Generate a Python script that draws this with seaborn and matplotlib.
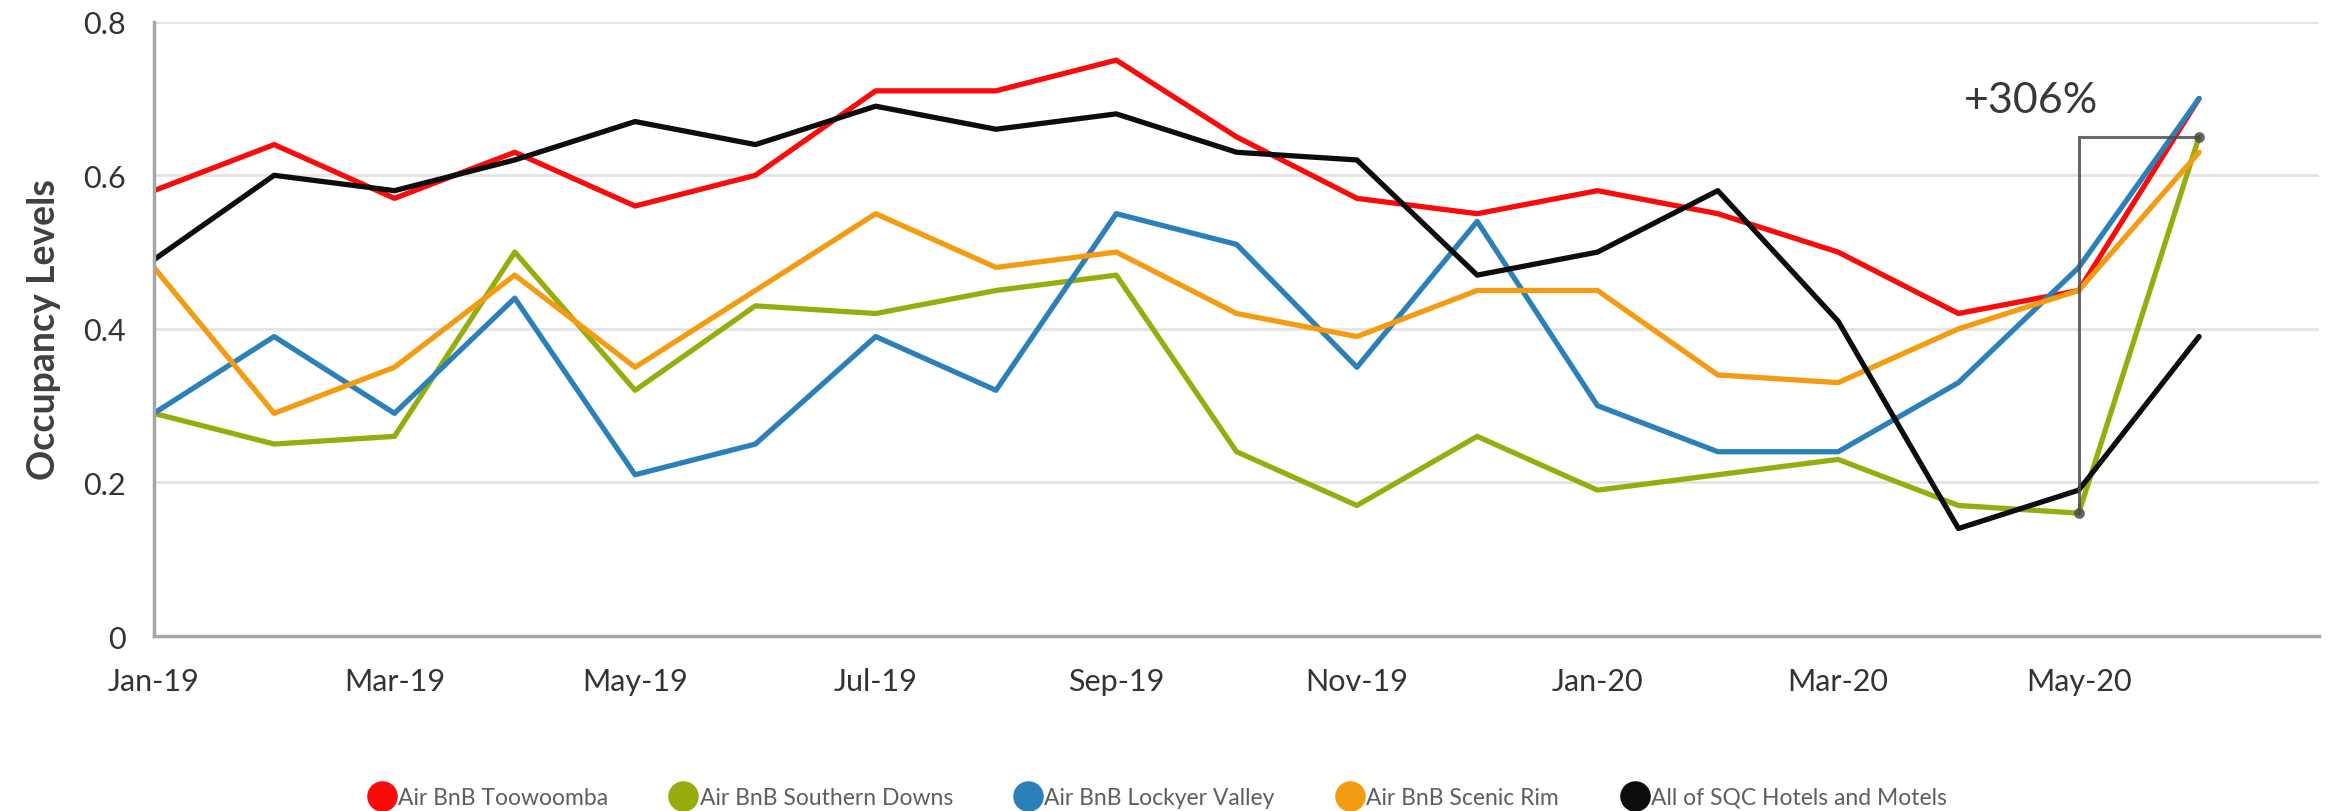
import pandas as pd
import numpy as np

import seaborn as sns

import matplotlib
import matplotlib.pyplot as plt
from matplotlib.lines import Line2D

matplotlib.use("agg")

months = [
    "Jan-19", "Feb-19", "Mar-19", "Apr-19", "May-19", "Jun-19",
    "Jul-19", "Aug-19", "Sep-19", "Oct-19", "Nov-19", "Dec-19",
    "Jan-20", "Feb-20", "Mar-20", "Apr-20", "May-20", "Jun-20",
]

toowoomba = [0.58, 0.64, 0.57, 0.63, 0.56, 0.60, 0.71, 0.71, 0.75, 0.65, 0.57, 0.55,
             0.58, 0.55, 0.50, 0.42, 0.45, 0.70]
southern_downs = [0.29, 0.25, 0.26, 0.50, 0.32, 0.43, 0.42, 0.45, 0.47, 0.24, 0.17, 0.26,
                  0.19, 0.21, 0.23, 0.17, 0.16, 0.65]
lockyer_valley = [0.29, 0.39, 0.29, 0.44, 0.21, 0.25, 0.39, 0.32, 0.55, 0.51, 0.35, 0.54,
                  0.30, 0.24, 0.24, 0.33, 0.48, 0.70]
scenic_rim = [0.48, 0.29, 0.35, 0.47, 0.35, 0.45, 0.55, 0.48, 0.50, 0.42, 0.39, 0.45,
              0.45, 0.34, 0.33, 0.40, 0.45, 0.63]
sqc_hotels = [0.49, 0.60, 0.58, 0.62, 0.67, 0.64, 0.69, 0.66, 0.68, 0.63, 0.62, 0.47,
              0.50, 0.58, 0.41, 0.14, 0.19, 0.39]

series_names = [
    "Air BnB Toowoomba",
    "Air BnB Southern Downs",
    "Air BnB Lockyer Valley",
    "Air BnB Scenic Rim",
    "All of SQC Hotels and Motels",
]
series_values = [toowoomba, southern_downs, lockyer_valley, scenic_rim, sqc_hotels]
colors = ["#fa0a0a", "#97ad0e", "#2b80b9", "#f39c12", "#0d0d0d"]

y_ticks = [0, 0.2, 0.4, 0.6, 0.8]
y_tick_labels = ["0", "0.2", "0.4", "0.6", "0.8"]

# long table for seaborn
rows = []
for name, vals in zip(series_names, series_values):
    for i, v in enumerate(vals):
        rows.append({"idx": i, "month": months[i], "series": name, "value": v})
df = pd.DataFrame(rows)

sns.set_theme(style="white")
plt.rcParams["font.family"] = ["Lato", "DejaVu Sans"]

fig = plt.figure(figsize=(23.31, 8.12), dpi=100)
ax = fig.add_axes([0.066, 0.2155, 0.929, 0.7565])

sns.lineplot(
    data=df, x="idx", y="value", hue="series", hue_order=series_names,
    palette=colors, linewidth=3.8, legend=False, ax=ax,
)

# the +306% bracket on Southern Downs
sd_may = southern_downs[16]
sd_jun = southern_downs[17]
ax.plot([16, 16, 17], [sd_may, sd_jun, sd_jun], color="#4d4d4d", alpha=0.85,
        linewidth=2.2, zorder=5, solid_joinstyle="miter")
ax.scatter([16, 17], [sd_may, sd_jun], s=60, color="#4d4d4d", alpha=0.85, zorder=6,
           linewidths=0)
ax.text(15.6, 0.698, "+306%", fontsize=31, color="#383838", ha="center", va="center")

ax.set_xlim(0, 18)
ax.set_ylim(0, 0.8)
ax.set_xticks(range(0, 17, 2))
ax.set_xticklabels(months[0:17:2])
ax.set_yticks(y_ticks)
ax.set_yticklabels(y_tick_labels)
ax.tick_params(axis="x", length=0, pad=22, labelsize=22, labelcolor="#333333")
ax.tick_params(axis="y", length=0, pad=20, labelsize=22, labelcolor="#333333")

ax.grid(axis="y", color="#e3e3e3", linewidth=2)
ax.set_axisbelow(True)
sns.despine(ax=ax)
for side in ["left", "bottom"]:
    ax.spines[side].set_color("#a6a6a6")
    ax.spines[side].set_linewidth(2.5)

ax.set_xlabel("")
ax.set_ylabel("Occupancy Levels", fontsize=27, fontweight="bold", color="#404040",
              labelpad=16)

handles = [
    Line2D([], [], marker="o", linestyle="none", markersize=22, color=c,
           markeredgewidth=0)
    for c in colors
]
fig.legend(
    handles, series_names, loc="center", bbox_to_anchor=(0.497, 0.017), ncol=5,
    frameon=False, fontsize=16.5, labelcolor="#5e5e5e", handletextpad=0.2,
    columnspacing=2.8, handlelength=1.0,
)

fig.savefig("out.png", dpi=100)
